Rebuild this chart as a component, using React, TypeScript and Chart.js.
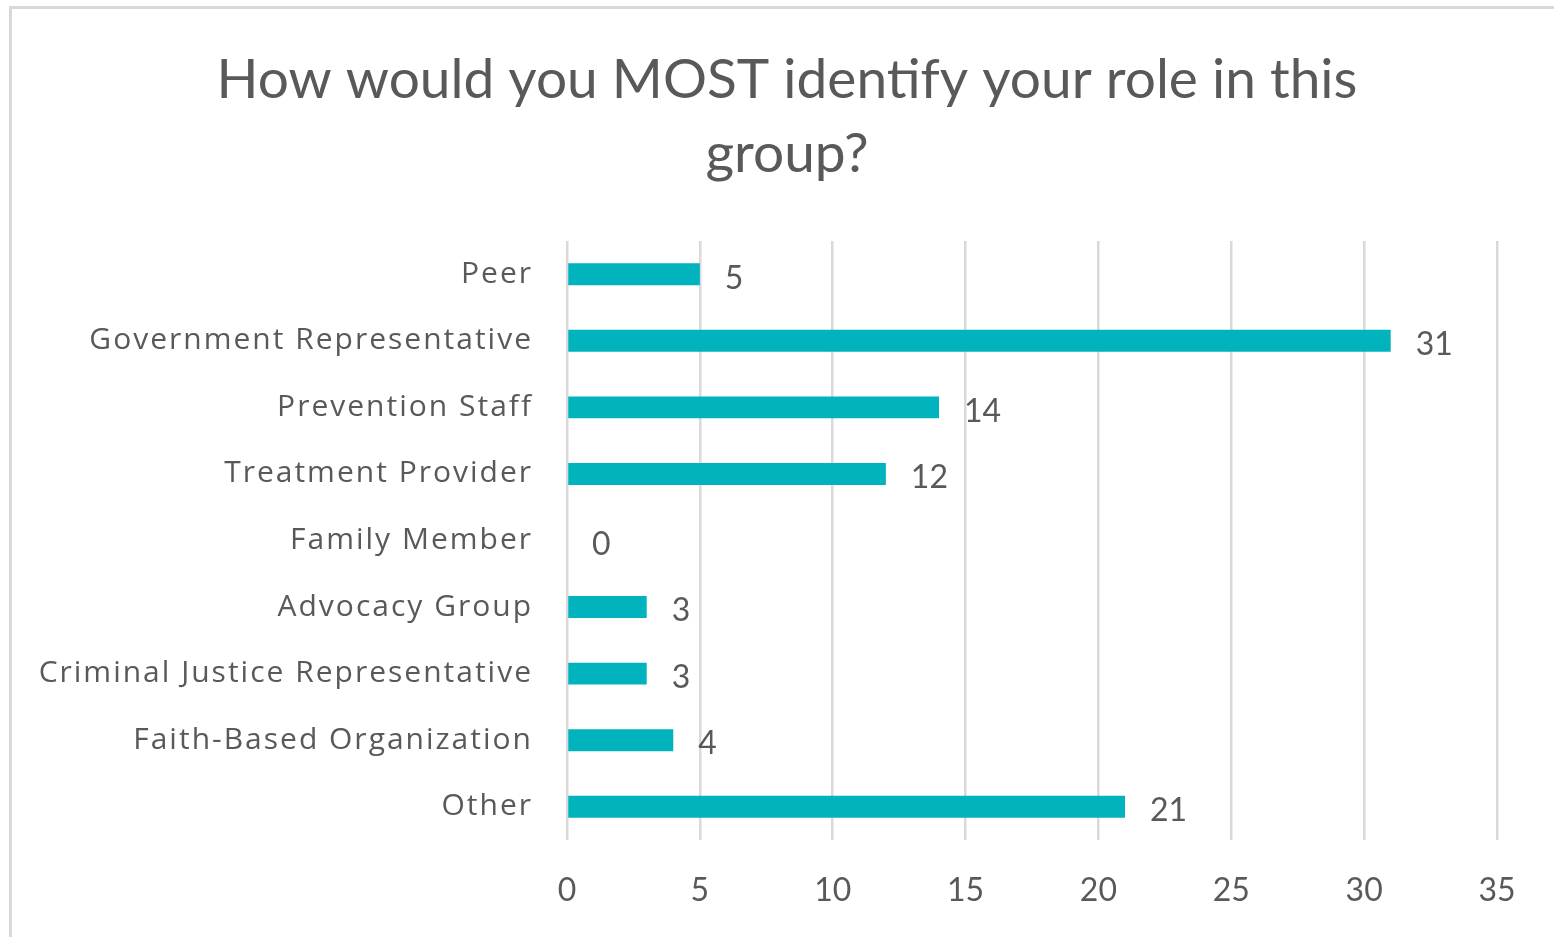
import React, { useEffect, useRef } from "react";
import { Chart, registerables } from "chart.js";

Chart.register(...registerables);

const categories = [
  "Peer",
  "Government Representative",
  "Prevention Staff",
  "Treatment Provider",
  "Family Member",
  "Advocacy Group",
  "Criminal Justice Representative",
  "Faith-Based Organization",
  "Other",
];
const counts = [5, 31, 14, 12, 0, 3, 3, 4, 21];
const titleLines = ["How would you MOST identify your role in this", "group?"];
const xMin = 0;
const xMax = 35;
const xStep = 5;

const FONT = "Lato, 'Open Sans', 'Noto Sans', sans-serif";
const CAT_FONT = "'Open Sans', 'Noto Sans', sans-serif";
const TEXT = "#595959";
const BAR = "#00B3BC";
const GRID = "#d9d9d9";

const valueLabels = {
  id: "valueLabels",
  afterDatasetsDraw(chart: any) {
    const ctx = chart.ctx;
    const meta = chart.getDatasetMeta(0);
    ctx.save();
    ctx.font = `32px ${FONT}`;
    ctx.fillStyle = TEXT;
    ctx.textAlign = "left";
    ctx.textBaseline = "middle";
    meta.data.forEach((bar: any, i: number) => {
      const v = chart.data.datasets[0].data[i];
      ctx.fillText(String(v), bar.x + 25, bar.y + 4);
    });
    ctx.restore();
  },
};

const categoryLabels = {
  id: "categoryLabels",
  afterDraw(chart: any) {
    const ctx = chart.ctx;
    const yScale = chart.scales.y;
    const spacing = 2;
    ctx.save();
    ctx.font = `30px ${CAT_FONT}`;
    ctx.fillStyle = TEXT;
    ctx.textAlign = "right";
    ctx.textBaseline = "middle";
    (ctx as any).letterSpacing = `${spacing}px`;
    const right = yScale.right - 36 + spacing;
    chart.data.labels.forEach((lab: string, i: number) => {
      ctx.fillText(lab, right, yScale.getPixelForValue(i));
    });
    ctx.restore();
  },
};

export default function App() {
  const ref = useRef<HTMLCanvasElement>(null);
  useEffect(() => {
    if (!ref.current) return;
    const chart = new Chart(ref.current, {
      type: "bar",
      data: {
        labels: categories,
        datasets: [
          {
            data: counts,
            backgroundColor: BAR,
            borderWidth: 0,
            categoryPercentage: 1,
            barPercentage: 0.33,
          },
        ],
      },
      options: {
        indexAxis: "y",
        animation: false,
        responsive: true,
        maintainAspectRatio: false,
        layout: { padding: { left: 77, right: 57, top: 10, bottom: 0 } },
        plugins: {
          legend: { display: false },
          tooltip: { enabled: false },
          title: {
            display: true,
            text: titleLines,
            color: TEXT,
            font: { family: FONT, size: 55, weight: "normal", lineHeight: 74 / 55 },
            padding: { top: 33, bottom: 50 },
          },
        },
        scales: {
          x: {
            min: xMin,
            max: xMax,
            ticks: {
              stepSize: xStep,
              color: TEXT,
              padding: 31,
              font: { family: FONT, size: 32 },
              maxRotation: 0,
            },
            grid: { color: GRID, lineWidth: 2.5, drawTicks: false },
            border: { display: false },
            afterFit(scale: any) {
              scale.height = 97;
            },
          },
          y: {
            ticks: { display: false },
            grid: { display: false, drawTicks: false },
            border: { display: false },
            afterFit(scale: any) {
              scale.width = 490;
            },
          },
        },
      },
      plugins: [valueLabels, categoryLabels],
    });
    return () => chart.destroy();
  }, []);

  return (
    <div
      style={{
        position: "fixed",
        left: 0,
        top: 0,
        width: 1554,
        height: 937,
        overflow: "hidden",
        background: "#fff",
      }}
    >
      <div
        style={{
          position: "absolute",
          left: 9,
          top: 6,
          width: 1700,
          height: 1100,
          border: `3px solid ${GRID}`,
          boxSizing: "border-box",
        }}
      />
      <div style={{ position: "absolute", left: 0, top: 0, width: 1554, height: 937 }}>
        <canvas ref={ref} />
      </div>
    </div>
  );
}
